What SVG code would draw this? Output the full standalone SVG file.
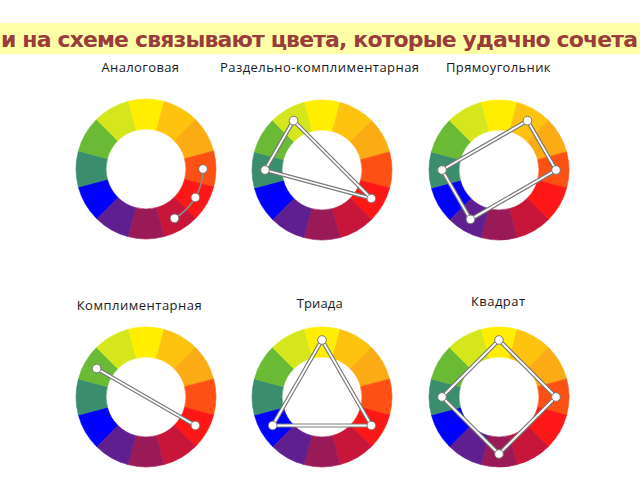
<svg xmlns="http://www.w3.org/2000/svg" xmlns:xlink="http://www.w3.org/1999/xlink" width="640" height="480" viewBox="0 0 640 480">
<style>
.lbl{font-family:"Open Sans","DejaVu Sans",sans-serif;font-size:13px;fill:#1a1a1a;text-anchor:start}
.title{font-family:"DejaVu Sans","Noto Sans",sans-serif;font-weight:bold;font-size:22px;fill:#993c3a}
.seg{stroke-width:0.6}
.s0{fill:#FFEE00;stroke:#FFEE00}
.s1{fill:#FDC30F;stroke:#FDC30F}
.s2{fill:#FBAB14;stroke:#FBAB14}
.s3{fill:#FC5112;stroke:#FC5112}
.s4{fill:#FE1717;stroke:#FE1717}
.s5{fill:#C8153A;stroke:#C8153A}
.s6{fill:#9A1957;stroke:#9A1957}
.s7{fill:#5F1F8E;stroke:#5F1F8E}
.s8{fill:#0000FF;stroke:#0000FF}
.s9{fill:#3A8E6E;stroke:#3A8E6E}
.s10{fill:#6BBA36;stroke:#6BBA36}
.s11{fill:#D5E61D;stroke:#D5E61D}
.outer{fill:none;stroke:#7a7a7a;stroke-width:4.2;stroke-linejoin:round;stroke-linecap:round}
.inner{fill:none;stroke:#ffffff;stroke-width:1.8;stroke-linejoin:round;stroke-linecap:round}
.arc{fill:none;stroke:#8a8a8a;stroke-width:1.6}
.dot{fill:#ffffff;stroke:#7a7a7a;stroke-width:1}
</style>
<defs>
<g id="ring">
<path class="seg s0" d="M -18.12 -67.61 A 70 70 0 0 1 18.12 -67.61 L 10.35 -38.64 A 40 40 0 0 0 -10.35 -38.64 Z"/>
<path class="seg s1" d="M 18.12 -67.61 A 70 70 0 0 1 49.50 -49.50 L 28.28 -28.28 A 40 40 0 0 0 10.35 -38.64 Z"/>
<path class="seg s2" d="M 49.50 -49.50 A 70 70 0 0 1 67.61 -18.12 L 38.64 -10.35 A 40 40 0 0 0 28.28 -28.28 Z"/>
<path class="seg s3" d="M 67.61 -18.12 A 70 70 0 0 1 67.61 18.12 L 38.64 10.35 A 40 40 0 0 0 38.64 -10.35 Z"/>
<path class="seg s4" d="M 67.61 18.12 A 70 70 0 0 1 49.50 49.50 L 28.28 28.28 A 40 40 0 0 0 38.64 10.35 Z"/>
<path class="seg s5" d="M 49.50 49.50 A 70 70 0 0 1 18.12 67.61 L 10.35 38.64 A 40 40 0 0 0 28.28 28.28 Z"/>
<path class="seg s6" d="M 18.12 67.61 A 70 70 0 0 1 -18.12 67.61 L -10.35 38.64 A 40 40 0 0 0 10.35 38.64 Z"/>
<path class="seg s7" d="M -18.12 67.61 A 70 70 0 0 1 -49.50 49.50 L -28.28 28.28 A 40 40 0 0 0 -10.35 38.64 Z"/>
<path class="seg s8" d="M -49.50 49.50 A 70 70 0 0 1 -67.61 18.12 L -38.64 10.35 A 40 40 0 0 0 -28.28 28.28 Z"/>
<path class="seg s9" d="M -67.61 18.12 A 70 70 0 0 1 -67.61 -18.12 L -38.64 -10.35 A 40 40 0 0 0 -38.64 10.35 Z"/>
<path class="seg s10" d="M -67.61 -18.12 A 70 70 0 0 1 -49.50 -49.50 L -28.28 -28.28 A 40 40 0 0 0 -38.64 -10.35 Z"/>
<path class="seg s11" d="M -49.50 -49.50 A 70 70 0 0 1 -18.12 -67.61 L -10.35 -38.64 A 40 40 0 0 0 -28.28 -28.28 Z"/>
</g>
</defs>
<rect width="640" height="480" fill="#ffffff"/>
<g id="title">
<rect x="0" y="23" width="640" height="31" fill="#FFFFA8"/>
<text class="title" x="1" y="46.5" textLength="637" lengthAdjust="spacing">и на схеме связывают цвета, которые удачно сочета</text>
</g>
<g id="wheel-analog">
<text class="lbl" x="101.5" y="72.3" textLength="77.5">Аналоговая</text>
<use xlink:href="#ring" href="#ring" transform="translate(146 169)"/>
</g>
<g id="wheel-split">
<text class="lbl" x="220" y="72.3" textLength="199">Раздельно-комплиментарная</text>
<use xlink:href="#ring" href="#ring" transform="translate(322 170)"/>
</g>
<g id="wheel-rect">
<text class="lbl" x="446" y="72.3" textLength="104.5">Прямоугольник</text>
<use xlink:href="#ring" href="#ring" transform="translate(499 170)"/>
</g>
<g id="wheel-compl">
<text class="lbl" x="76.7" y="310" textLength="125">Комплиментарная</text>
<use xlink:href="#ring" href="#ring" transform="translate(146 397)"/>
</g>
<g id="wheel-triad">
<text class="lbl" x="296.7" y="308.3" textLength="46">Триада</text>
<use xlink:href="#ring" href="#ring" transform="translate(322 397)"/>
</g>
<g id="wheel-square">
<text class="lbl" x="471" y="305.7" textLength="54">Квадрат</text>
<use xlink:href="#ring" href="#ring" transform="translate(499 397)"/>
</g>
<g id="connectors">
<g transform="translate(146 169)">
<path class="arc" d="M 57 0 A 57 57 0 0 1 28.5 49.36"/>
</g>
<g transform="translate(322 170)">
<polygon class="outer" points="-28.5,-49.36 49.36,28.5 -57,0"/>
<polygon class="inner" points="-28.5,-49.36 49.36,28.5 -57,0"/>
</g>
<g transform="translate(499 170)">
<polygon class="outer" points="28.5,-49.36 57,0 -28.5,49.36 -57,0"/>
<polygon class="inner" points="28.5,-49.36 57,0 -28.5,49.36 -57,0"/>
</g>
<g transform="translate(146 397)">
<line class="outer" x1="-49.36" y1="-28.5" x2="49.36" y2="28.5"/>
<line class="inner" x1="-49.36" y1="-28.5" x2="49.36" y2="28.5"/>
</g>
<g transform="translate(322 397)">
<polygon class="outer" points="0,-57 49.36,28.5 -49.36,28.5"/>
<polygon class="inner" points="0,-57 49.36,28.5 -49.36,28.5"/>
</g>
<g transform="translate(499 397)">
<polygon class="outer" points="0,-57 57,0 0,57 -57,0"/>
<polygon class="inner" points="0,-57 57,0 0,57 -57,0"/>
</g>
</g>
<g id="dots-analog" transform="translate(146 169)">
<circle class="dot" cx="57" cy="0" r="4.3"/>
<circle class="dot" cx="49.36" cy="28.5" r="4.3"/>
<circle class="dot" cx="28.5" cy="49.36" r="4.3"/>
</g>
<g id="dots-split" transform="translate(322 170)">
<circle class="dot" cx="-28.5" cy="-49.36" r="4.3"/>
<circle class="dot" cx="-57" cy="0" r="4.3"/>
<circle class="dot" cx="49.36" cy="28.5" r="4.3"/>
</g>
<g id="dots-rect" transform="translate(499 170)">
<circle class="dot" cx="28.5" cy="-49.36" r="4.3"/>
<circle class="dot" cx="57" cy="0" r="4.3"/>
<circle class="dot" cx="-28.5" cy="49.36" r="4.3"/>
<circle class="dot" cx="-57" cy="0" r="4.3"/>
</g>
<g id="dots-compl" transform="translate(146 397)">
<circle class="dot" cx="-49.36" cy="-28.5" r="4.3"/>
<circle class="dot" cx="49.36" cy="28.5" r="4.3"/>
</g>
<g id="dots-triad" transform="translate(322 397)">
<circle class="dot" cx="0" cy="-57" r="4.3"/>
<circle class="dot" cx="49.36" cy="28.5" r="4.3"/>
<circle class="dot" cx="-49.36" cy="28.5" r="4.3"/>
</g>
<g id="dots-square" transform="translate(499 397)">
<circle class="dot" cx="0" cy="-57" r="4.3"/>
<circle class="dot" cx="57" cy="0" r="4.3"/>
<circle class="dot" cx="0" cy="57" r="4.3"/>
<circle class="dot" cx="-57" cy="0" r="4.3"/>
</g>
</svg>
